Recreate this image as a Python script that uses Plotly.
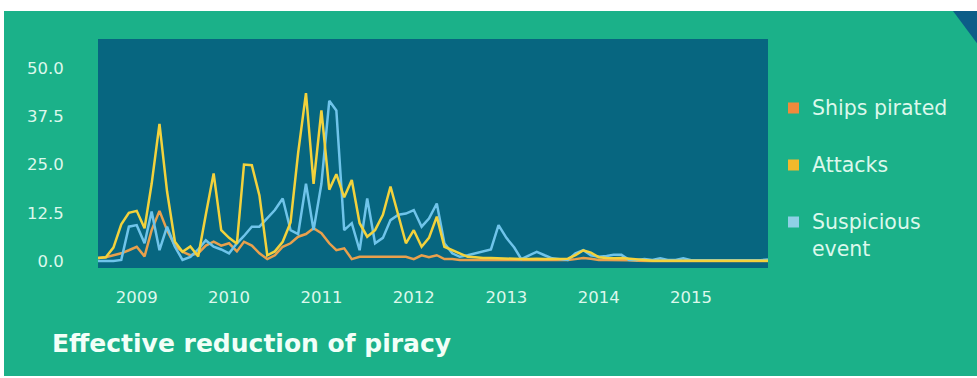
import pandas as pd
import plotly.graph_objects as go

# Monthly figures, Aug 2008 - Nov 2015
months = pd.date_range("2008-08-01", "2015-11-01", freq="MS")

attacks = [
    0.8, 1.0, 3.5, 9.5, 12.5, 13.0, 8.5, 20.0, 35.5, 18.0,
    5.0, 2.4, 3.8, 1.2, 12.0, 22.7, 8.0, 6.0, 4.5, 25.0,
    24.8, 17.0, 1.5, 2.5, 5.0, 10.0, 28.0, 43.5, 20.0, 39.0,
    18.5, 22.5, 16.5, 21.0, 9.8, 6.3, 8.0, 12.0, 19.3, 11.5,
    4.6, 8.0, 3.7, 6.0, 11.5, 3.7, 2.8, 1.8, 1.1, 1.0,
    0.8, 0.8, 0.7, 0.6, 0.6, 0.5, 0.5, 0.6, 0.5, 0.5,
    0.5, 0.6, 1.5, 2.8, 2.2, 1.0, 0.8, 0.7, 0.8, 0.6,
    0.4, 0.2, 0.1, 0.1, 0.1, 0.1, 0.1, 0.1, 0.1, 0.1,
    0.1, 0.1, 0.1, 0.1, 0.1, 0.1, 0.1, 0.1,
]

ships_pirated = [
    0.8, 1.0, 1.5, 2.0, 2.8, 3.7, 1.2, 8.0, 13.0, 8.0,
    4.0, 2.4, 1.5, 2.0, 4.0, 5.0, 4.0, 4.6, 2.5, 5.0,
    4.0, 2.0, 0.5, 1.5, 3.7, 4.6, 6.3, 7.0, 8.5, 7.2,
    4.6, 2.8, 3.3, 0.5, 1.1, 1.1, 1.1, 1.1, 1.1, 1.1,
    1.1, 0.5, 1.5, 1.0, 1.5, 0.5, 0.5, 0.3, 0.3, 0.3,
    0.3, 0.3, 0.3, 0.3, 0.3, 0.3, 0.3, 0.3, 0.3, 0.3,
    0.3, 0.3, 0.5, 0.8, 0.6, 0.3, 0.3, 0.3, 0.3, 0.2,
    0.1, 0.0, 0.0, 0.0, 0.0, 0.0, 0.0, 0.0, 0.0, 0.0,
    0.0, 0.0, 0.0, 0.0, 0.0, 0.0, 0.0, 0.0,
]

suspicious = [
    0.0, 0.0, 0.0, 0.3, 8.9, 9.3, 4.6, 12.8, 2.8, 8.9,
    3.7, 0.3, 1.1, 3.0, 5.4, 3.7, 3.0, 2.0, 4.6, 6.5,
    8.9, 8.9, 11.0, 13.2, 16.2, 8.0, 7.0, 20.0, 8.0, 20.0,
    41.5, 39.0, 8.0, 9.8, 2.8, 16.2, 4.6, 6.0, 10.6, 12.0,
    12.3, 13.2, 8.9, 11.0, 14.9, 4.6, 2.0, 1.1, 1.5, 2.0,
    2.5, 3.0, 9.3, 6.0, 3.5, 0.5, 1.5, 2.4, 1.5, 0.7,
    0.5, 0.3, 2.0, 2.8, 1.5, 1.1, 1.3, 1.6, 1.6, 0.3,
    0.3, 0.5, 0.3, 0.7, 0.3, 0.3, 0.7, 0.2, 0.2, 0.2,
    0.2, 0.2, 0.2, 0.2, 0.2, 0.2, 0.2, 0.4,
]

year_ticks = ["2009", "2010", "2011", "2012", "2013", "2014", "2015"]
y_ticks = [0.0, 12.5, 25.0, 37.5, 50.0]

series_names = ["Ships pirated", "Attacks", "Suspicious event"]
legend_text = ["Ships pirated", "Attacks", "Suspicious<br>event"]

GREEN = "#1bb189"
PLOT_BG = "#076680"
CORNER = "#0c5d88"
TEXT = "#dcf8ec"

W, H = 977, 378
L, R, T, B = 98, 768, 39, 268


def px(x):
    return (x - L) / (R - L)


def py(y):
    return (B - y) / (B - T)


fig = go.Figure()

fig.add_trace(go.Scatter(x=months, y=ships_pirated, mode="lines", name=series_names[0],
                         line=dict(color="#e9a04c", width=2.5), showlegend=False))
fig.add_trace(go.Scatter(x=months, y=suspicious, mode="lines", name=series_names[2],
                         line=dict(color="#6fc4ea", width=2.5), showlegend=False))
fig.add_trace(go.Scatter(x=months, y=attacks, mode="lines", name=series_names[1],
                         line=dict(color="#f3d23c", width=2.5), showlegend=False))

shapes = [
    # white page edges around the green card
    dict(type="rect", xref="paper", yref="paper", x0=px(-5), x1=px(W + 5), y0=py(-5), y1=py(11),
         fillcolor="white", line_width=0, layer="above"),
    dict(type="rect", xref="paper", yref="paper", x0=px(-5), x1=px(4), y0=py(H + 5), y1=py(-5),
         fillcolor="white", line_width=0, layer="above"),
    dict(type="rect", xref="paper", yref="paper", x0=px(-5), x1=px(W + 5), y0=py(H + 5), y1=py(376),
         fillcolor="white", line_width=0, layer="above"),
    # dark corner wedge
    dict(type="path", xref="paper", yref="paper",
         path=f"M {px(953)} {py(11)} L {px(W + 2)} {py(11)} L {px(W + 2)} {py(46)} Z",
         fillcolor=CORNER, line_width=0, layer="above"),
]

legend_colors = ["#f08a3c", "#f2b92c", "#8fd0e6"]
legend_y = [108, 165, 222]
for c, yc in zip(legend_colors, legend_y):
    shapes.append(dict(type="rect", xref="paper", yref="paper",
                       x0=px(788), x1=px(799), y0=py(yc + 5.5), y1=py(yc - 5.5),
                       fillcolor=c, line_width=0, layer="above"))

annotations = []
for txt, yc in zip(legend_text, legend_y):
    two_lines = "<br>" in txt
    annotations.append(dict(text=txt, xref="paper", yref="paper", x=px(810), y=py(yc),
                            xanchor="left", yanchor="top" if two_lines else "middle",
                            yshift=14 if two_lines else 0,
                            align="left", showarrow=False,
                            font=dict(family="DejaVu Sans", size=20.5, color=TEXT)))

annotations.append(dict(text="<b>Effective reduction of piracy</b>", xref="paper", yref="paper",
                        x=px(50), y=py(343), xanchor="left", yanchor="middle", showarrow=False,
                        font=dict(family="DejaVu Sans", size=25, color="#f2fff8")))

fig.update_layout(
    width=W, height=H,
    margin=dict(l=L, r=W - R, t=T, b=H - B),
    paper_bgcolor=GREEN,
    plot_bgcolor=PLOT_BG,
    shapes=shapes,
    annotations=annotations,
    xaxis=dict(
        range=[months[0], months[-1]],
        tickvals=[pd.Timestamp(f"{y}-01-01") for y in year_ticks],
        ticktext=year_ticks,
        showgrid=False, zeroline=False, showline=False,
        ticks="outside", ticklen=14, tickcolor="rgba(0,0,0,0)",
        tickfont=dict(family="DejaVu Sans", size=16.5, color=TEXT),
    ),
    yaxis=dict(
        range=[-1.8, 57.5],
        tickvals=y_ticks,
        ticktext=[f"{v:.1f}" for v in y_ticks],
        showgrid=False, zeroline=False, showline=False,
        ticks="outside", ticklen=30, tickcolor="rgba(0,0,0,0)",
        tickfont=dict(family="DejaVu Sans", size=16.5, color=TEXT),
    ),
)

fig.write_html("out.html")
